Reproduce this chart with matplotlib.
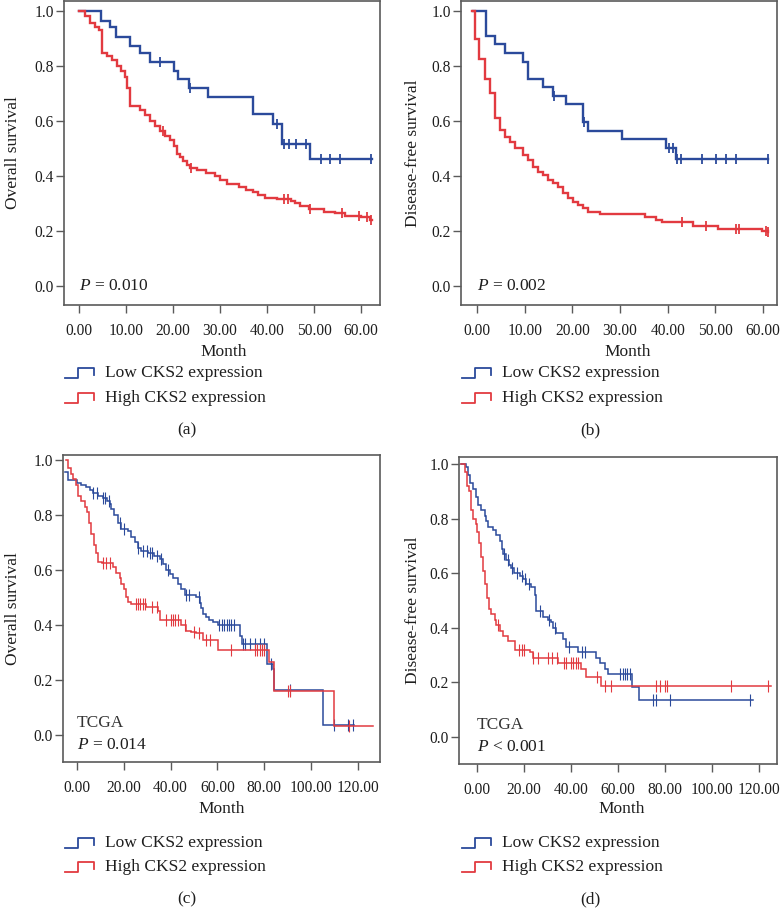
import numpy as np
import matplotlib
matplotlib.use('Agg')
import matplotlib.pyplot as plt
from matplotlib.lines import Line2D

plt.rcParams['font.family'] = 'Liberation Serif'
plt.rcParams['mathtext.fontset'] = 'custom'
plt.rcParams['mathtext.rm'] = 'Liberation Serif'
plt.rcParams['mathtext.it'] = 'Liberation Serif:italic'

# Kaplan-Meier steps: (month, survival after the step)
a_low = [(0, 1.0), (4.7, 0.965), (6.6, 0.94), (7.9, 0.904), (10.9, 0.874), (13.0, 0.846),
         (15.1, 0.816), (20.1, 0.783), (21.1, 0.752), (23.3, 0.719), (27.5, 0.688),
         (36.9, 0.624), (41.2, 0.589), (43.1, 0.516), (49.1, 0.463), (62.3, 0.463)]
a_low_cens = [17.2, 23.6, 42.0, 43.6, 44.6, 46.2, 48.3, 51.4, 53.4, 55.5, 62.0]
a_high = [(0, 1.0), (1.3, 0.98), (2.3, 0.955), (3.4, 0.94), (4.3, 0.93), (4.8, 0.846),
          (6.0, 0.835), (7.0, 0.82), (8.0, 0.80), (9.0, 0.78), (9.7, 0.76), (10.3, 0.72),
          (10.9, 0.655), (13.0, 0.64), (14.0, 0.62), (15.1, 0.60), (16.2, 0.58), (17.2, 0.565),
          (18.3, 0.545), (19.4, 0.53), (20.1, 0.51), (20.8, 0.48), (21.5, 0.47), (22.2, 0.455),
          (22.9, 0.44), (23.6, 0.43), (25.0, 0.42), (27.0, 0.41), (29.0, 0.40), (30.0, 0.385),
          (31.5, 0.37), (34.0, 0.36), (35.5, 0.35), (37.0, 0.34), (38.0, 0.33), (39.5, 0.32),
          (42.0, 0.315), (45.0, 0.31), (46.0, 0.30), (47.0, 0.29), (49.0, 0.28), (52.0, 0.27),
          (54.5, 0.265), (56.5, 0.255), (60.0, 0.25), (61.8, 0.24), (62.3, 0.24)]
a_high_cens = [17.8, 23.8, 43.5, 44.5, 49.2, 56.0, 59.5, 61.2, 62.0]

b_low = [(-0.8, 1.0), (1.8, 0.907), (3.7, 0.879), (5.8, 0.848), (9.7, 0.816), (10.6, 0.753),
         (13.8, 0.723), (15.9, 0.692), (18.7, 0.661), (22.2, 0.596), (23.3, 0.565), (30.3, 0.533),
         (39.6, 0.503), (41.7, 0.461), (61.0, 0.461)]
b_low_cens = [16.1, 22.4, 40.3, 41.2, 42.0, 42.8, 47.2, 50.1, 52.2, 54.3, 61.0]
b_high = [(-1.0, 1.0), (-0.5, 0.897), (0.4, 0.824), (1.6, 0.752), (2.7, 0.70), (3.7, 0.61),
          (4.8, 0.567), (5.8, 0.543), (6.9, 0.525), (7.9, 0.50), (9.7, 0.476), (10.7, 0.458),
          (11.7, 0.434), (12.8, 0.416), (13.8, 0.404), (14.9, 0.385), (15.9, 0.376), (17.0, 0.361),
          (18.0, 0.337), (19.1, 0.319), (20.1, 0.307), (21.2, 0.295), (22.2, 0.282), (23.3, 0.27),
          (25.7, 0.262), (35.2, 0.25), (37.6, 0.24), (38.7, 0.234), (45.3, 0.218), (50.6, 0.206),
          (59.7, 0.20), (61.0, 0.195)]
b_high_cens = [43.0, 48.0, 54.3, 55.0, 60.5, 61.0]

c_low = [(-5.3, 0.958), (-3.8, 0.927), (0, 0.917), (1.9, 0.909), (4, 0.90), (5.4, 0.89),
         (6.8, 0.88), (9, 0.87), (11, 0.86), (13, 0.85), (14, 0.84), (14.7, 0.82), (16, 0.80),
         (17.5, 0.77), (19, 0.75), (21.8, 0.74), (23.2, 0.72), (24.6, 0.70), (26, 0.68),
         (27.5, 0.67), (30.3, 0.66), (33, 0.65), (35.3, 0.64), (36.7, 0.62), (38, 0.60),
         (39.6, 0.585), (41, 0.57), (43, 0.55), (44.5, 0.53), (46, 0.51), (51, 0.50),
         (52.4, 0.48), (52.8, 0.46), (53.8, 0.44), (55.2, 0.43), (56.6, 0.42), (58, 0.41),
         (60.2, 0.40), (69.5, 0.36), (70.6, 0.33), (81.3, 0.26), (83.7, 0.24), (84.4, 0.165),
         (105, 0.035), (118.6, 0.035)]
c_low_cens = [7, 8.5, 11, 12, 13.5, 18.5, 20, 26, 28, 30, 31, 32, 34, 36, 39, 46.5, 48, 52,
              60.5, 62, 63, 64, 65, 66, 67, 71, 72, 74, 76, 78, 80, 83, 91, 110, 116, 118]
c_high = [(-4.8, 1.0), (-3.8, 0.97), (-2.7, 0.95), (-1.7, 0.93), (-0.6, 0.91), (0.4, 0.87),
          (1.9, 0.85), (3.3, 0.83), (4.3, 0.81), (5.1, 0.77), (6.1, 0.73), (7.2, 0.69),
          (8.2, 0.66), (9.0, 0.63), (10.5, 0.625), (15.4, 0.61), (16.8, 0.59), (18.2, 0.57),
          (19, 0.55), (20, 0.53), (21, 0.50), (21.8, 0.485), (23.2, 0.475), (29.6, 0.465),
          (34.6, 0.45), (35.6, 0.42), (44.5, 0.40), (46.7, 0.38), (48.8, 0.375), (51, 0.37),
          (53.8, 0.345), (60.2, 0.308), (82.0, 0.266), (84.4, 0.159), (109.7, 0.032),
          (126.4, 0.032)]
c_high_cens = [11, 12.5, 14, 25, 26, 27, 28, 29, 32, 34, 38, 40, 41, 42, 43, 46, 50, 52, 55,
               57, 66, 76, 77, 78, 79, 80, 90, 91, 116.4]

d_low = [(-6.7, 1.0), (-4.8, 0.99), (-3.8, 0.96), (-3.1, 0.93), (-1.7, 0.91), (-0.6, 0.88),
         (0.4, 0.85), (1.8, 0.83), (3.3, 0.81), (4.0, 0.79), (4.7, 0.77), (6.8, 0.76),
         (8.2, 0.74), (9.6, 0.72), (10.6, 0.69), (11.1, 0.67), (12.5, 0.65), (13.5, 0.63),
         (14.6, 0.62), (15.6, 0.60), (18.2, 0.59), (19.6, 0.58), (21.0, 0.56), (23.1, 0.55),
         (24.5, 0.52), (25.2, 0.46), (28.0, 0.44), (30.2, 0.43), (31.6, 0.42), (32.3, 0.40),
         (33.8, 0.38), (36.6, 0.36), (38.0, 0.33), (43.0, 0.31), (50.8, 0.29), (52.2, 0.27),
         (54.3, 0.25), (55.7, 0.23), (66.1, 0.184), (68.9, 0.135), (117.4, 0.135)]
d_low_cens = [11.5, 13, 14.8, 17, 19, 20.5, 22, 27, 30.8, 33, 39.2, 44.5, 46, 61, 62, 63, 64,
              65, 75, 76, 82, 116]
d_high = [(-6.7, 1.0), (-5.2, 0.97), (-4.3, 0.92), (-3.4, 0.90), (-2.4, 0.83), (-1.7, 0.80),
          (-0.6, 0.78), (0, 0.75), (0.9, 0.71), (1.8, 0.66), (2.6, 0.61), (3.3, 0.56),
          (4.3, 0.51), (5.1, 0.47), (6.1, 0.45), (7.5, 0.43), (8.2, 0.41), (9.6, 0.39),
          (11.1, 0.37), (13.2, 0.35), (16.0, 0.32), (22.4, 0.31), (23.8, 0.29), (34.5, 0.27),
          (44.4, 0.25), (46.5, 0.22), (52.9, 0.187), (125.2, 0.187)]
d_high_cens = [9, 18, 19, 20, 24, 26, 30, 32, 34, 37, 38, 40, 41, 42, 43, 51, 54.5, 57, 76,
               78, 80, 81, 108, 124]

ylabels = ['Overall survival', 'Disease-free survival', 'Overall survival', 'Disease-free survival']
pvals = ['$P$ = 0.010', '$P$ = 0.002', '$P$ = 0.014', '$P$ < 0.001']
panel_tags = ['(a)', '(b)', '(c)', '(d)']
legend_names = ['Low CKS2 expression', 'High CKS2 expression']

BLUE = '#2b4a9b'
RED = '#e23a40'
TXT = '#1e1e1e'
W, H = 780, 922

fig = plt.figure(figsize=(7.8, 9.22), dpi=100)


def box(l, t, r, b):
    return [l / W, 1 - b / H, (r - l) / W, (b - t) / H]


def fx(x, y):
    return x / W, 1 - y / H


def km(ax, pts, cens, color, lw, ms, mew):
    t = np.array([p[0] for p in pts])
    s = np.array([p[1] for p in pts])
    ax.step(t, s, where='post', color=color, lw=lw, solid_joinstyle='miter')
    idx = np.searchsorted(t, cens, side='right') - 1
    ax.plot(cens, s[idx], ls='none', marker='|', ms=ms, mew=mew, color=color)


setup = [
    dict(rect=box(64, 1, 380, 305), xlim=(-3.2, 64), ylim=(-0.069, 1.036),
         ticks=np.arange(0, 61, 10), curves=(a_low, a_low_cens, a_high, a_high_cens),
         lw=1.7, ms=7, mew=1.3, ylx=-0.137, month=(224, 352), leg=(65, 105, 373, 398),
         tag=(187, 430), tcga=False),
    dict(rect=box(461, 1, 777, 305), xlim=(-3.35, 62.9), ylim=(-0.069, 1.036),
         ticks=np.arange(0, 61, 10), curves=(b_low, b_low_cens, b_high, b_high_cens),
         lw=1.7, ms=7, mew=1.3, ylx=-0.128, month=(628, 352), leg=(462, 502, 373, 398),
         tag=(590, 430), tcga=False),
    dict(rect=box(63, 455, 380, 762), xlim=(-6.0, 129.5), ylim=(-0.098, 1.018),
         ticks=np.arange(0, 121, 20), curves=(c_low, c_low_cens, c_high, c_high_cens),
         lw=1.1, ms=8, mew=0.8, ylx=-0.134, month=(222, 809), leg=(65, 105, 843, 867),
         tag=(187, 899), tcga=True),
    dict(rect=box(459, 457, 777, 764), xlim=(-7.7, 127.7), ylim=(-0.099, 1.026),
         ticks=np.arange(0, 121, 20), curves=(d_low, d_low_cens, d_high, d_high_cens),
         lw=1.1, ms=8, mew=0.8, ylx=-0.121, month=(622, 809), leg=(462, 502, 843, 867),
         tag=(590, 899), tcga=True),
]

for i, p in enumerate(setup):
    ax = fig.add_axes(p['rect'])
    low, low_c, high, high_c = p['curves']
    km(ax, low, low_c, BLUE, p['lw'], p['ms'], p['mew'])
    km(ax, high, high_c, RED, p['lw'], p['ms'], p['mew'])
    ax.set_xlim(*p['xlim'])
    ax.set_ylim(*p['ylim'])
    ax.set_xticks(p['ticks'])
    ax.set_xticklabels(['%.2f' % v for v in p['ticks']])
    ax.set_yticks(np.arange(0, 1.01, 0.2))
    ax.set_yticklabels(['%.1f' % v for v in np.arange(0, 1.01, 0.2)])
    for sp in ax.spines.values():
        sp.set_color('#5a5a5a')
        sp.set_linewidth(1.2)
    ax.tick_params(axis='both', direction='out', length=6, width=1, color='#5a5a5a',
                   labelsize=11.2, labelcolor=TXT)
    ax.tick_params(axis='x', pad=7)
    ax.tick_params(axis='y', pad=1.5)
    ax.set_ylabel(ylabels[i], fontsize=12.5, color=TXT)
    ax.yaxis.set_label_coords(p['ylx'], 0.5)

    if p['tcga']:
        ax.text(0, 0.044, 'TCGA', fontsize=12.5, color='#333333', ha='left', va='center')
        ax.text(0, -0.038, pvals[i], fontsize=12.5, color=TXT, ha='left', va='center')
    else:
        ax.text(0, 0.0, pvals[i], fontsize=12.5, color=TXT, ha='left', va='center')

    fig.text(*fx(*p['month']), 'Month', fontsize=12.5, color=TXT, ha='center', va='center')

    # legend: step-shaped glyphs and labels
    x0, xt, y1, y2 = p['leg']
    for yy, col, name in [(y1, BLUE, legend_names[0]), (y2, RED, legend_names[1])]:
        gx = np.array([x0, x0 + 13, x0 + 13, x0 + 29, x0 + 29])
        gy = np.array([yy + 5, yy + 5, yy - 5, yy - 5, yy + 2])
        fig.add_artist(Line2D(gx / W, 1 - gy / H, transform=fig.transFigure,
                              color=col, lw=1.3))
        fig.text(*fx(xt, yy), name, fontsize=12.5, color=TXT, ha='left', va='center')

    fig.text(*fx(*p['tag']), panel_tags[i], fontsize=12.5, color=TXT, ha='center', va='center')

fig.savefig('out.png', dpi=100, facecolor='white')
